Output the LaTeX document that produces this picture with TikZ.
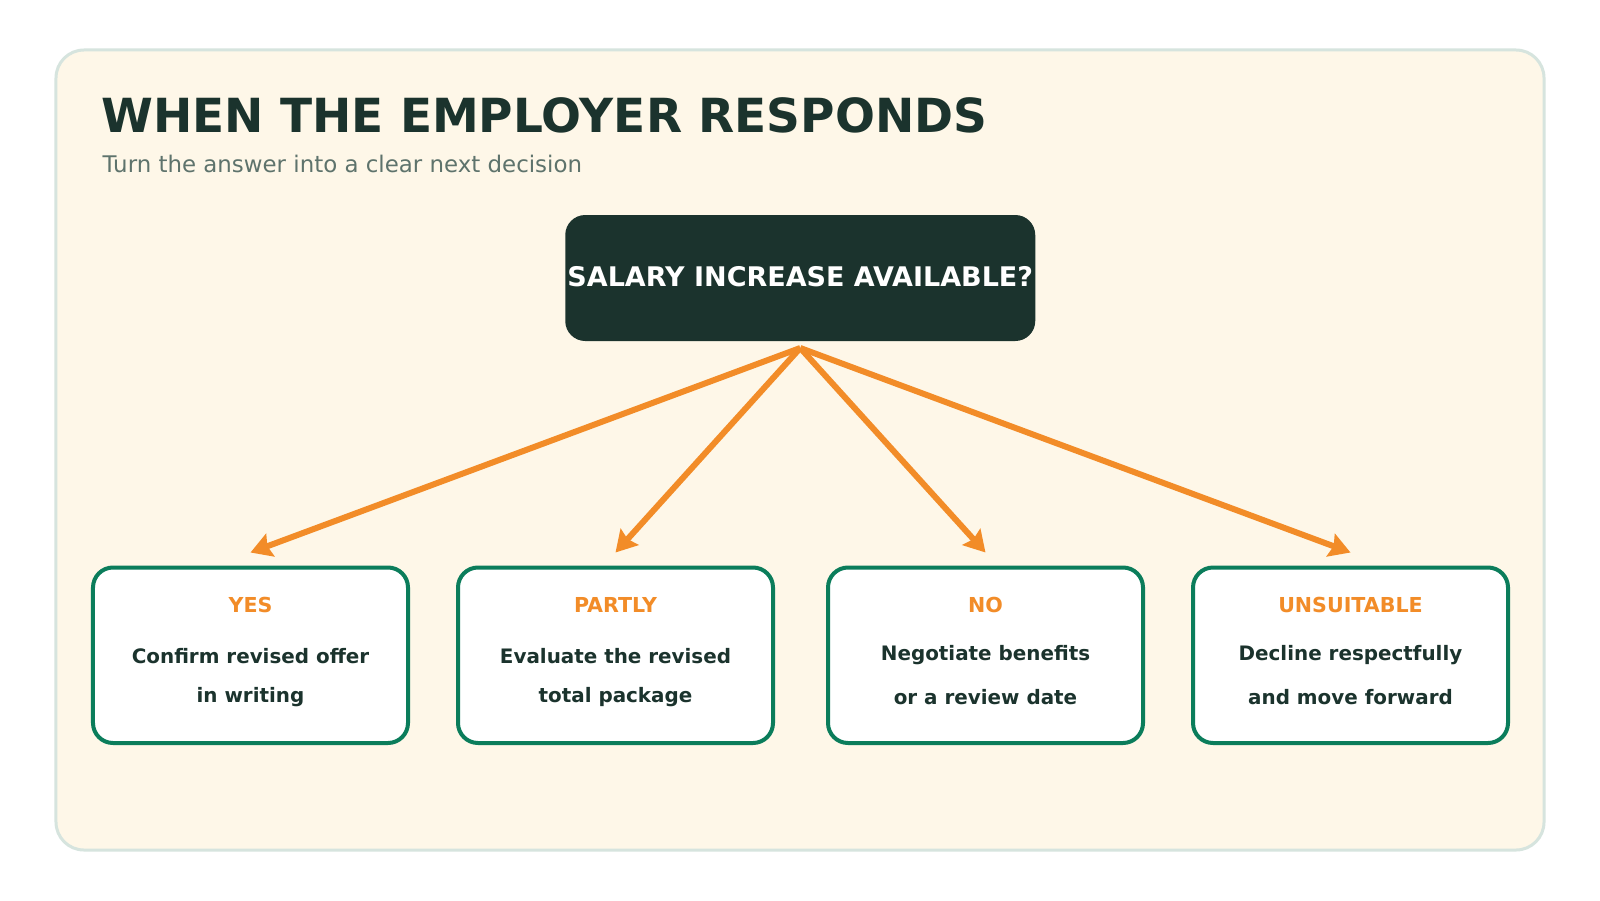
\documentclass[tikz,border=0pt]{standalone}
\usepackage{fontspec}
\setmainfont{DejaVu Sans}
\usetikzlibrary{arrows.meta}
\definecolor{panelfill}{HTML}{FEF7E8}
\definecolor{panelline}{HTML}{D6E4DE}
\definecolor{darkgreen}{HTML}{1B332D}
\definecolor{subgrey}{HTML}{5E736C}
\definecolor{accent}{HTML}{F28C28}
\definecolor{boxgreen}{HTML}{0B7D5B}
\begin{document}
\begin{tikzpicture}[x=1bp,y=-1bp,
  outcome/.style={draw=boxgreen, line width=4bp, fill=white, rounded corners=20bp,
    minimum width=315bp, minimum height=175.5bp, inner sep=0pt, outer sep=0pt},
  tag/.style={anchor=base, inner sep=0pt, text=accent, font=\fontsize{20.6bp}{21bp}\selectfont\bfseries},
  bodyline/.style={anchor=base, inner sep=0pt, text=darkgreen, font=\fontsize{19.9bp}{20bp}\selectfont\bfseries},
  flow/.style={draw=accent, line width=6bp, -{Stealth[length=21bp,width=24bp,inset=3bp]}}
]
\useasboundingbox (0,0) rectangle (1600,900);
\fill[white] (0,0) rectangle (1600,900);
\node[draw=panelline, fill=panelfill, line width=3bp, rounded corners=28bp,
  minimum width=1488bp, minimum height=800bp, inner sep=0pt, outer sep=0pt] (panel) at (800,450) {};

\node[anchor=base west, inner sep=0pt, text=darkgreen, font=\fontsize{47bp}{48bp}\selectfont\bfseries]
  (title) at (101,132.3) {WHEN THE EMPLOYER RESPONDS};
\node[anchor=base west, inner sep=0pt, text=subgrey, font=\fontsize{22.9bp}{24bp}\selectfont]
  (subtitle) at (102.5,172.7) {Turn the answer into a clear next decision};

\node[fill=darkgreen, rounded corners=20bp, minimum width=470bp, minimum height=126bp,
  inner sep=0pt, outer sep=0pt, text=white, font=\fontsize{27bp}{28bp}\selectfont\bfseries,
  text height=19.6bp, text depth=3.6bp] (q) at (800.25,278) {SALARY INCREASE AVAILABLE?};

\node[outcome] (yes) at (250.5,655.25) {};
\node[outcome] (partly) at (615.5,655.25) {};
\node[outcome] (no) at (985.5,655.25) {};
\node[outcome] (unsuit) at (1350.5,655.25) {};

\node[tag] (yestag) at (250.5,612.7) {YES};
\node[bodyline] (yesa) at (250.5,663) {Confirm revised offer};
\node[bodyline] (yesb) at (250.5,702) {in writing};

\node[tag] (partlytag) at (615.5,612.7) {PARTLY};
\node[bodyline] (partlya) at (615.5,663) {Evaluate the revised};
\node[bodyline] (partlyb) at (615.5,702) {total package};

\node[tag] (notag) at (985.5,612.7) {NO};
\node[bodyline] (noa) at (985.5,660.7) {Negotiate benefits};
\node[bodyline] (nob) at (985.5,704) {or a review date};

\node[tag] (unsuittag) at (1350.5,612.7) {UNSUITABLE};
\node[bodyline] (unsuita) at (1350.5,660.7) {Decline respectfully};
\node[bodyline] (unsuitb) at (1350.5,704) {and move forward};

\coordinate (src) at ([yshift=-7bp]q.south);
\draw[flow] (src) -- ([yshift=15bp]yes.north);
\draw[flow] (src) -- ([yshift=15bp]partly.north);
\draw[flow] (src) -- ([yshift=15bp]no.north);
\draw[flow] (src) -- ([yshift=15bp]unsuit.north);
\end{tikzpicture}
\end{document}
